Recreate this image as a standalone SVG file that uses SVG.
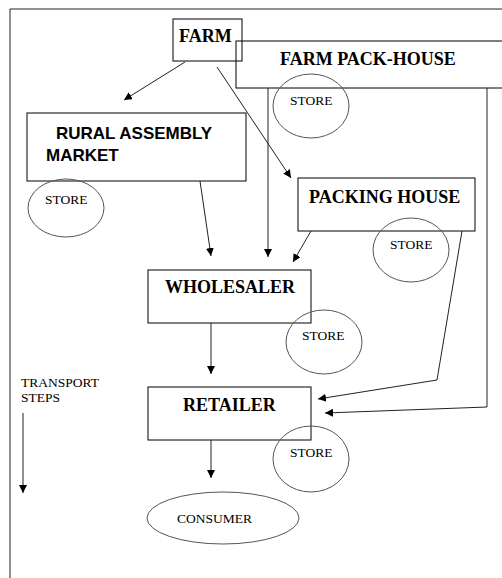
<svg xmlns="http://www.w3.org/2000/svg" width="502" height="578" viewBox="0 0 502 578">
<style>
.box{fill:none;stroke:#000;stroke-width:1}
.ell{fill:none;stroke:#555;stroke-width:1}
.cons{fill:none;stroke:#555;stroke-width:1}
.ln{fill:none;stroke:#222;stroke-width:1}
.arr{fill:none;stroke:#222;stroke-width:1;marker-end:url(#ah)}
.tb{font-family:"Liberation Serif",serif;font-weight:bold;font-size:18px;fill:#000}
.ts{font-family:"Liberation Sans",sans-serif;font-weight:bold;font-size:17px;fill:#000}
.tr{font-family:"Liberation Serif",serif;font-size:13.5px;fill:#000}
</style>
<defs>
<marker id="ah" viewBox="0 0 10 10" refX="10" refY="5" markerWidth="8" markerHeight="8" markerUnits="userSpaceOnUse" orient="auto">
<path d="M0,0 L10,5 L0,10 Z" fill="#000"/>
</marker>
</defs>
<rect width="502" height="578" fill="#fff"/>
<path class="ln" d="M10,578 V9 H502"/>
<g id="farm">
<rect class="box" x="173" y="19" width="69" height="42"/>
<text class="tb" x="179" y="42">FARM</text>
</g>
<g id="farm-pack-house">
<rect class="box" x="236" y="41" width="270" height="47"/>
<text class="tb" x="280" y="65">FARM PACK-HOUSE</text>
</g>
<g id="store-fph">
<ellipse class="ell" cx="311" cy="106" rx="38" ry="32"/>
<text class="tr" x="290" y="105">STORE</text>
</g>
<g id="rural-assembly-market">
<rect class="box" x="27" y="113" width="219" height="68"/>
<text class="ts" x="56" y="139">RURAL ASSEMBLY</text>
<text class="ts" x="46" y="161">MARKET</text>
</g>
<g id="store-ram">
<ellipse class="ell" cx="66" cy="208" rx="38" ry="29"/>
<text class="tr" x="45" y="204">STORE</text>
</g>
<g id="packing-house">
<rect class="box" x="298" y="178" width="177" height="53"/>
<text class="tb" x="309" y="203">PACKING HOUSE</text>
</g>
<g id="store-ph">
<ellipse class="ell" cx="411" cy="250" rx="38" ry="32"/>
<text class="tr" x="390" y="249">STORE</text>
</g>
<g id="wholesaler">
<rect class="box" x="148" y="270" width="163" height="53"/>
<text class="tb" x="165" y="293">WHOLESALER</text>
</g>
<g id="store-wh">
<ellipse class="ell" cx="324" cy="342" rx="38" ry="32"/>
<text class="tr" x="302" y="340">STORE</text>
</g>
<g id="retailer">
<rect class="box" x="148" y="387" width="163" height="53"/>
<text class="tb" x="183" y="411">RETAILER</text>
</g>
<g id="store-rt">
<ellipse class="ell" cx="311" cy="459" rx="38" ry="33"/>
<text class="tr" x="290" y="457">STORE</text>
</g>
<g id="consumer">
<ellipse class="cons" cx="223" cy="518" rx="76" ry="26"/>
<text class="tr" x="177" y="523">CONSUMER</text>
</g>
<g id="transport-steps">
<text class="tr" x="21" y="387">TRANSPORT</text>
<text class="tr" x="21" y="402">STEPS</text>
<line class="arr" x1="23" y1="413" x2="23" y2="493"/>
</g>
<g id="connectors">
<line class="arr" x1="185" y1="62" x2="124" y2="100"/>
<line class="arr" x1="217" y1="67" x2="291" y2="178"/>
<line class="arr" x1="200" y1="181" x2="211" y2="256"/>
<line class="arr" x1="268" y1="88" x2="268" y2="257"/>
<line class="arr" x1="311" y1="231" x2="293" y2="262"/>
<line class="arr" x1="211" y1="323" x2="211" y2="374"/>
<line class="arr" x1="211" y1="440" x2="211" y2="478"/>
<polyline class="arr" points="462,231 437,380 318,399"/>
<polyline class="arr" points="487,88 487,407 325,413"/>
</g>
</svg>
